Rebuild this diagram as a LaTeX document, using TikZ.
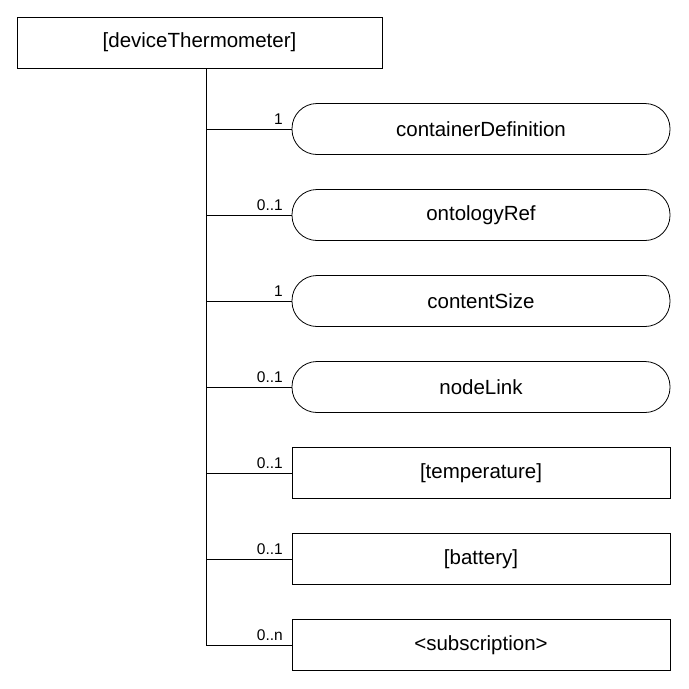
\documentclass[tikz,border=0pt]{standalone}
\usepackage{fontspec}
\setmainfont{Liberation Sans}
\usetikzlibrary{positioning}

\begin{document}
\begin{tikzpicture}[x=1pt,y=-1pt,
  box/.style={draw,thick,minimum width=378pt,minimum height=51pt,font=\fontsize{20.5}{22}\selectfont},
  elem/.style={box,rounded corners=25pt},
  mult/.style={font=\fontsize{15.5}{17}\selectfont,anchor=south east,inner sep=1pt}]
		\useasboundingbox (0,0) rectangle (689,689);
		\node[draw,thick,minimum width=365pt,minimum height=51pt,font=\fontsize{20.5}{22}\selectfont] (root) at (199.5,42.5) {[deviceThermometer]};
		\coordinate (TrunkTop) at (206,68);
		\coordinate (TrunkEnd) at (206,646);
		\draw [thick] (TrunkTop) -- (TrunkEnd);% trunk

		\foreach \y/\name/\txt/\m/\sty in {129/cdef/containerDefinition/1/elem,
		  215/oref/ontologyRef/0..1/elem, 301/csize/contentSize/1/elem,
		  387/nlink/nodeLink/0..1/elem, 473/temp/{[temperature]}/0..1/box,
		  559/batt/{[battery]}/0..1/box, 645/subs/{<subscription>}/0..n/box}{
			\node[\sty] (\name) at (481,\y) {\txt};
			\coordinate (\name-t) at (206,\y);
			\draw [thick] (\name-t) -- (\name.west);% branch
			\node[mult] at (284,\y-3) {\m};
		}
\end{tikzpicture}
\end{document}
